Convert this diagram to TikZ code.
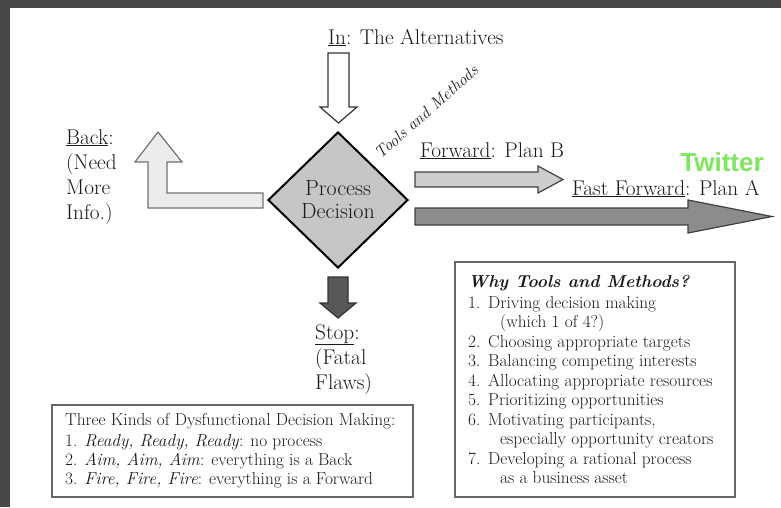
\documentclass[tikz,border=0pt]{standalone}
\usepackage{fontspec}
\newfontfamily\twfont{Liberation Sans}
\usetikzlibrary{shapes.geometric}
\definecolor{framec}{HTML}{474747}
\definecolor{dfill}{HTML}{C6C6C6}
\definecolor{backfill}{HTML}{ECECEC}
\definecolor{fwdfill}{HTML}{CDCDCD}
\definecolor{ffwdfill}{HTML}{8C8C8C}
\definecolor{stopfill}{HTML}{585858}
\definecolor{twgreen}{HTML}{7CE85A}
\definecolor{boxline}{HTML}{666666}
\definecolor{txt}{HTML}{1A1A1A}
\begin{document}
\begin{tikzpicture}[x=1pt,y=-1pt,
  lbl/.style={font=\fontsize{21.3}{25}\selectfont, text=txt, inner sep=0, anchor=base west},
  boxtxt/.style={font=\fontsize{17.3}{19.5}\selectfont, text=txt, inner sep=0, anchor=base west},
  blockarrow/.style={draw=#1, line width=1.2, line join=miter},
  infobox/.style={draw=boxline, line width=2, fill=white}]
\useasboundingbox (0,0) rectangle (781,507);
\fill[white] (0,0) rectangle (781,507);
% frame
\fill[framec] (0,0) rectangle (10,507);
\fill[framec] (0,0) rectangle (781,8);

% In
\node[lbl] (inl) at (328,44) {\underline{In}: The Alternatives};
\draw[blockarrow=black!80, fill=white] (328,53) -- (349,53) -- (349,107) -- (357,107) -- (338.5,123) -- (320,107) -- (328,107) -- cycle;

% diamond
\node[diamond, draw=black, line width=2, fill=dfill, minimum width=140, minimum height=136, inner sep=0, align=center, text=txt, font=\fontsize{22}{23}\selectfont] (pd) at (338,200) {Process\\Decision};

% tools and methods
\node[font=\fontsize{16.5}{18}\selectfont\itshape, text=txt, rotate=41.5, inner sep=0] (tm) at (426,112) {Tools and Methods};

% back arrow
\draw[blockarrow=black!55, fill=backfill] (263,193) -- (167,193) -- (167,162) -- (182,162) -- (158,132) -- (135,162) -- (148,162) -- (148,208) -- (263,208) -- cycle;
\node[lbl] (b1) at (66,144) {\underline{Back}:};
\node[lbl] (b2) at (66,169) {(Need};
\node[lbl] (b3) at (66,194) {More};
\node[lbl] (b4) at (66,219) {Info.)};

% forward
\node[lbl] (fw) at (420,157) {\underline{Forward}: Plan B};
\draw[blockarrow=black!75, fill=fwdfill] (415,172) -- (538,172) -- (538,166) -- (563,179.5) -- (538,193) -- (538,187) -- (415,187) -- cycle;

% fast forward
\node[lbl] (ffw) at (572,195) {\underline{Fast Forward}: Plan A};
\node[font=\twfont\bfseries\fontsize{26}{28}\selectfont, text=twgreen, inner sep=0] (tw) at (722,162) {Twitter};
\draw[blockarrow=black!75, fill=ffwdfill] (415,208) -- (688,208) -- (688,200) -- (772,216.5) -- (688,233) -- (688,225) -- (415,225) -- cycle;

% stop
\draw[blockarrow=black!80, fill=stopfill] (328,277) -- (348,277) -- (348,303) -- (356,303) -- (338,318) -- (320,303) -- (328,303) -- cycle;
\node[lbl] (s1) at (315,339) {\underline{Stop}:};
\node[lbl] (s2) at (315,364) {(Fatal};
\node[lbl] (s3) at (315,389) {Flaws)};

% bottom-left box
\draw[infobox] (52,405) rectangle (413,497);
\node[boxtxt] (t0) at (65,425) {Three Kinds of Dysfunctional Decision Making:};
\node[boxtxt] (t1) at (65,446) {1. \textit{Ready, Ready, Ready}: no process};
\node[boxtxt] (t2) at (65,465) {2. \textit{Aim, Aim, Aim}: everything is a Back};
\node[boxtxt] (t3) at (65,484) {3. \textit{Fire, Fire, Fire}: everything is a Forward};

% right box
\draw[infobox] (455,262) rectangle (735,497);
\node[boxtxt, font=\fontsize{17.3}{19.5}\selectfont\bfseries\itshape] (w0) at (468,287) {Why Tools and Methods?};
\node[boxtxt] (n1) at (468,308) {1.};
\node[boxtxt] (w1) at (488,308) {Driving decision making};
\node[boxtxt] (w1b) at (500,327.5) {(which 1 of 4?)};
\node[boxtxt] (n2) at (468,347) {2.};
\node[boxtxt] (w2) at (488,347) {Choosing appropriate targets};
\node[boxtxt] (n3) at (468,366.5) {3.};
\node[boxtxt] (w3) at (488,366.5) {Balancing competing interests};
\node[boxtxt] (n4) at (468,386) {4.};
\node[boxtxt] (w4) at (488,386) {Allocating appropriate resources};
\node[boxtxt] (n5) at (468,405.5) {5.};
\node[boxtxt] (w5) at (488,405.5) {Prioritizing opportunities};
\node[boxtxt] (n6) at (468,425) {6.};
\node[boxtxt] (w6) at (488,425) {Motivating participants,};
\node[boxtxt] (w6b) at (500,444.5) {especially opportunity creators};
\node[boxtxt] (n7) at (468,464) {7.};
\node[boxtxt] (w7) at (488,464) {Developing a rational process};
\node[boxtxt] (w7b) at (500,483.5) {as a business asset};
\end{tikzpicture}
\end{document}
